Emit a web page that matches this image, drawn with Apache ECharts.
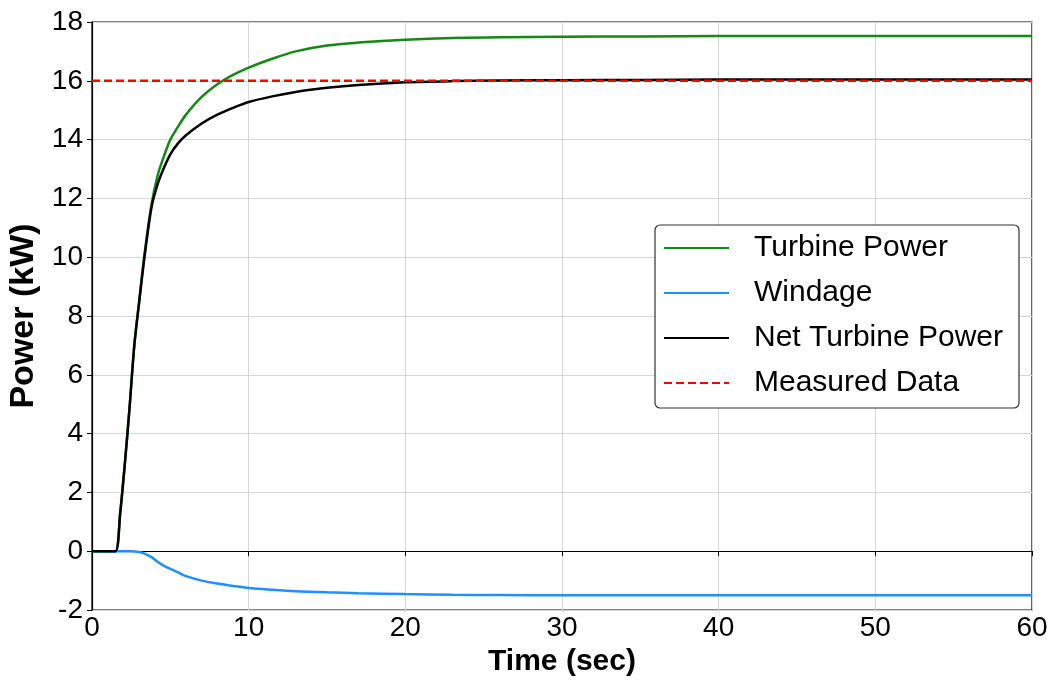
<!DOCTYPE html>
<html>
<head>
<meta charset="utf-8">
<script src="https://cdn.jsdelivr.net/npm/echarts@6/dist/echarts.min.js"></script>
<style>html,body{margin:0;padding:0;background:#fff;}#c{width:1060px;height:688px;}</style>
</head>
<body>
<div id="c"></div>
<script>
var timeSec = [0, 1, 1.5, 1.8, 2.1, 2.4, 2.7, 3.0, 3.35, 3.8, 4.2, 4.6, 5.0, 5.5, 6.0, 7.0, 8.0, 9.0, 10, 11.5, 13, 15, 17, 20, 23, 26, 30, 35, 40, 50, 60];
var turbinePower = [0, 0, 0, 1.3, 3.0, 4.9, 7.0, 8.45, 10.1, 11.8, 12.8, 13.45, 14.0, 14.45, 14.85, 15.45, 15.88, 16.2, 16.45, 16.75, 17.0, 17.2, 17.3, 17.4, 17.46, 17.48, 17.5, 17.51, 17.52, 17.52, 17.52];
var windage = [0, 0, 0, 0, 0, 0, -0.01, -0.03, -0.08, -0.2, -0.37, -0.5, -0.6, -0.72, -0.85, -1.0, -1.1, -1.18, -1.25, -1.31, -1.36, -1.4, -1.43, -1.46, -1.48, -1.49, -1.5, -1.5, -1.5, -1.5, -1.5];
var netTurbinePower = [0, 0, 0, 1.3, 3.0, 4.9, 7.0, 8.42, 10.0, 11.7, 12.5, 13.05, 13.5, 13.88, 14.15, 14.55, 14.85, 15.08, 15.28, 15.47, 15.62, 15.76, 15.86, 15.95, 15.99, 16.01, 16.02, 16.03, 16.04, 16.04, 16.04];
var measuredTime = [0, 60];
var measuredData = [16, 16];
var seriesNames = ['Turbine Power', 'Windage', 'Net Turbine Power', 'Measured Data'];

function pairs(xs, ys) { return xs.map(function (x, i) { return [x, ys[i]]; }); }

var font = '"Liberation Sans", Arial, sans-serif';
var chart = echarts.init(document.getElementById('c'), null, { renderer: 'canvas' });
chart.setOption({
  backgroundColor: '#ffffff',
  animation: false,
  grid: { left: 92, right: 28, top: 22, bottom: 78, show: true, borderColor: '#000', borderWidth: 1.2, backgroundColor: 'transparent', containLabel: false, outerBoundsMode: 'none' },
  xAxis: {
    type: 'value', min: 0, max: 60, interval: 10,
    name: 'Time (sec)', nameLocation: 'middle', nameGap: 27,
    nameTextStyle: { fontFamily: font, fontSize: 30, fontWeight: 'bold', color: '#000' },
    axisLine: { show: true, lineStyle: { color: '#000', width: 1.2 } },
    axisTick: { show: true, length: 5, lineStyle: { color: '#000' } },
    axisLabel: { fontFamily: font, fontSize: 28, color: '#000', margin: 4 },
    splitLine: { show: true, lineStyle: { color: '#d6d6d6', width: 1 } }
  },
  yAxis: {
    type: 'value', min: -2, max: 18, interval: 2,
    name: 'Power (kW)', nameLocation: 'middle', nameGap: 44,
    nameTextStyle: { fontFamily: font, fontSize: 34, fontWeight: 'bold', color: '#000' },
    axisLine: { show: true, lineStyle: { color: '#000', width: 1.2 } },
    axisTick: { show: true, length: 5, lineStyle: { color: '#000' } },
    axisLabel: { fontFamily: font, fontSize: 28, color: '#000', margin: 9 },
    splitLine: { show: true, lineStyle: { color: '#d6d6d6', width: 1 } }
  },
  legend: {
    orient: 'vertical', left: 655, top: 225,
    data: seriesNames,
    itemWidth: 65, itemHeight: 14, itemGap: 15,
    padding: [8, 16, 10, 8],
    itemStyle: { opacity: 0 },
    backgroundColor: '#fff', borderColor: '#333', borderWidth: 1.2, borderRadius: 5,
    textStyle: { fontFamily: font, fontSize: 30, color: '#000', lineHeight: 30, padding: [0, 0, 0, 20] }
  },
  series: [
    { name: seriesNames[0], type: 'line', data: pairs(timeSec, turbinePower), showSymbol: false, symbol: 'none', smooth: 0.3, lineStyle: { color: '#138a13', width: 2.5 }, itemStyle: { color: '#138a13' }, z: 3 },
    { name: seriesNames[1], type: 'line', data: pairs(timeSec, windage), showSymbol: false, symbol: 'none', smooth: 0.3, lineStyle: { color: '#1e90ff', width: 2.5 }, itemStyle: { color: '#1e90ff' }, z: 3 },
    { name: seriesNames[2], type: 'line', data: pairs(timeSec, netTurbinePower), showSymbol: false, symbol: 'none', smooth: 0.3, lineStyle: { color: '#000', width: 2.5 }, itemStyle: { color: '#000' }, z: 4 },
    { name: seriesNames[3], type: 'line', data: pairs(measuredTime, measuredData), showSymbol: false, symbol: 'none', lineStyle: { color: '#ff0000', width: 2.5, type: [8, 4] }, itemStyle: { color: '#ff0000' }, z: 5 }
  ]
});
</script>
</body>
</html>
